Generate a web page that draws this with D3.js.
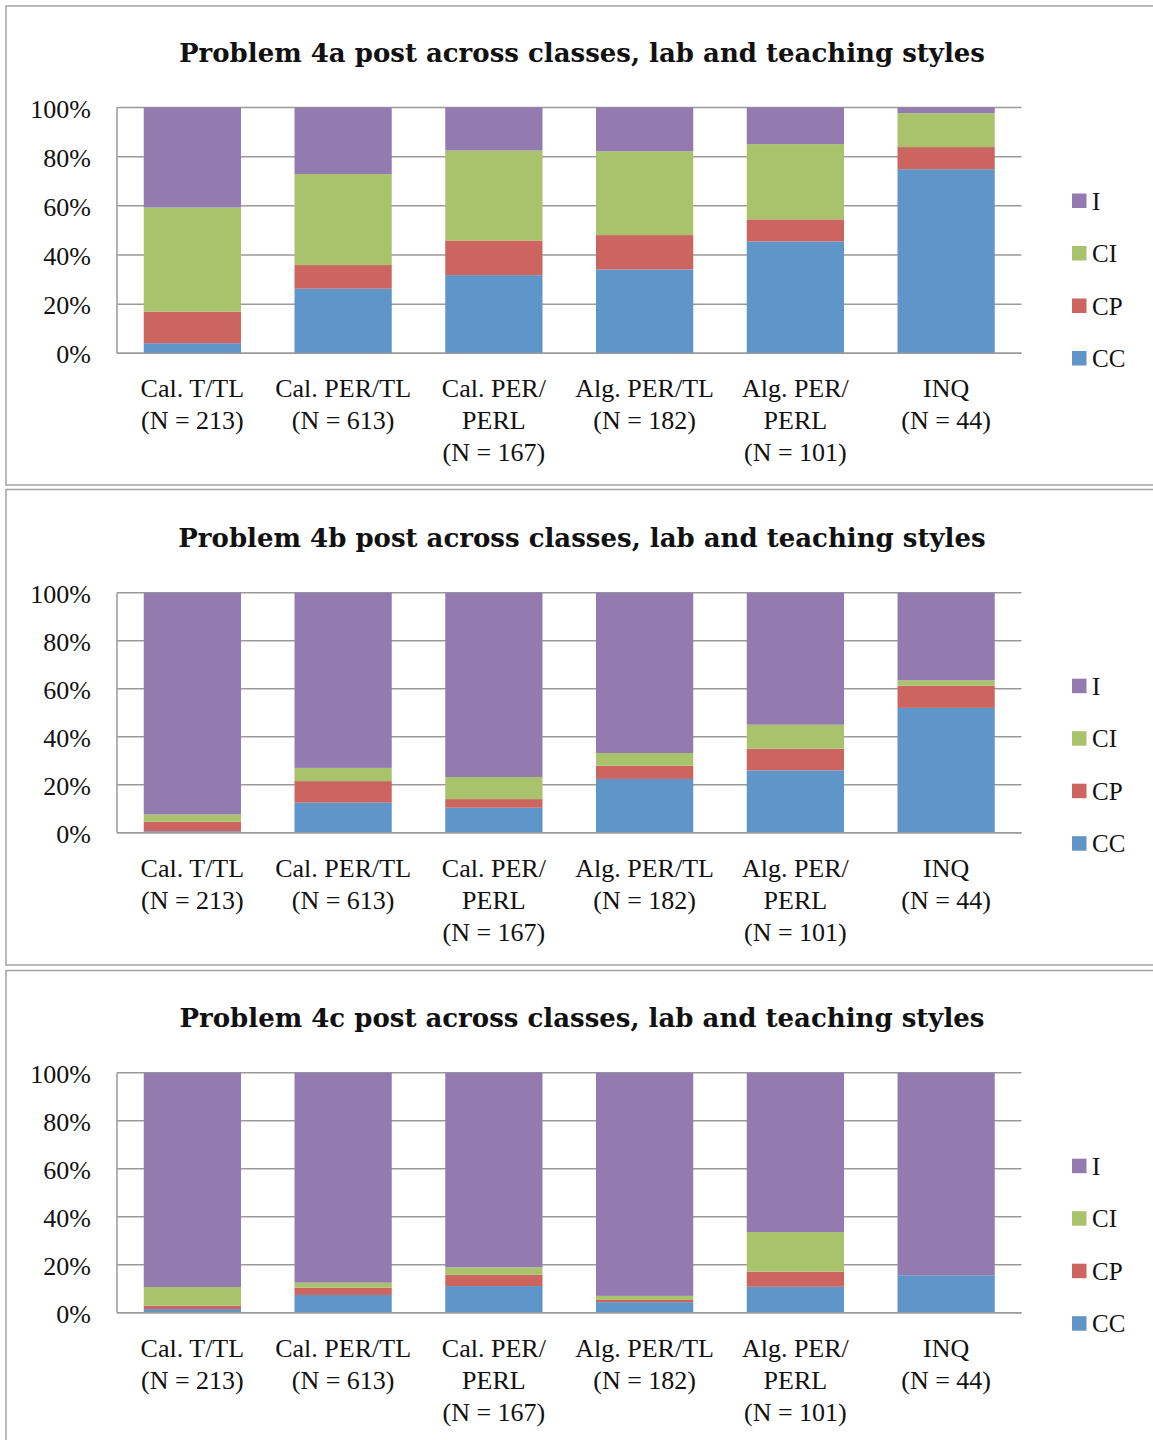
<!DOCTYPE html>
<html>
<head>
<meta charset="utf-8">
<script src="https://cdn.jsdelivr.net/npm/d3@7"></script>
<style>
  body { margin: 0; background: #fff; }
  svg text { font-family: "Liberation Serif", "DejaVu Serif", serif; fill: #111; }
  svg text.title { font-family: "DejaVu Serif", serif; font-weight: bold; }
</style>
</head>
<body>
<svg id="chart"></svg>
<script>
// categories (multi-line x labels)
var categories = ["Cal. T/TL", "Cal. PER/TL", "Cal. PER/PERL", "Alg. PER/TL", "Alg. PER/PERL", "INQ"];
var categoryLines = [
  ["Cal. T/TL", "(N = 213)"],
  ["Cal. PER/TL", "(N = 613)"],
  ["Cal. PER/", "PERL", "(N = 167)"],
  ["Alg. PER/TL", "(N = 182)"],
  ["Alg. PER/", "PERL", "(N = 101)"],
  ["INQ", "(N = 44)"]
];
var seriesKeys = ["CC", "CP", "CI", "I"];
var legendOrder = ["I", "CI", "CP", "CC"];
var yTicks = [0, 20, 40, 60, 80, 100];
var titles = [
  "Problem 4a post across classes, lab and teaching styles",
  "Problem 4b post across classes, lab and teaching styles",
  "Problem 4c post across classes, lab and teaching styles"
];

// percentages
var cc4a = [4.1, 26.3, 31.8, 34.1, 45.5, 74.9];
var cp4a = [12.8, 9.6, 14.1, 14.0, 9.0, 9.0];
var ci4a = [42.4, 37.0, 36.6, 34.1, 30.6, 13.8];
var i4a  = [40.7, 27.1, 17.5, 17.8, 14.9, 2.3];

var cc4b = [0.6, 12.5, 10.4, 22.4, 26.0, 52.0];
var cp4b = [4.0, 9.0, 3.6, 5.5, 9.0, 9.3];
var ci4b = [3.0, 5.5, 9.2, 5.3, 10.0, 2.2];
var i4b  = [92.4, 73.0, 76.8, 66.8, 55.0, 36.5];

var cc4c = [1.5, 7.4, 11.1, 4.4, 10.8, 15.6];
var cp4c = [1.4, 3.0, 4.7, 0.9, 6.3, 0];
var ci4c = [7.8, 2.1, 3.1, 1.7, 16.5, 0];
var i4c  = [89.3, 87.5, 81.1, 93.0, 66.4, 84.4];

var colors = { CC: "#5f95c8", CP: "#cc6560", CI: "#a9c36c", I: "#937bb0" };

var W = 1153, H = 1440;
var svg = d3.select("#chart").attr("width", W).attr("height", H);

// layout of the three panels
var panels = [
  { top: 6, bottom: 485, plotTop: 107.5, plotBottom: 353.3, titleY: 62 },
  { top: 489.5, bottom: 965, plotTop: 592.7, plotBottom: 832.7, titleY: 547 },
  { top: 970.5, bottom: 1460, plotTop: 1072.7, plotBottom: 1312.7, titleY: 1027 }
];
var plotLeft = 117, plotRight = 1021.5;

var allData = [
  [cc4a, cp4a, ci4a, i4a],
  [cc4b, cp4b, ci4b, i4b],
  [cc4c, cp4c, ci4c, i4c]
];

function buildRows(arrs) {
  return categories.map(function (c, i) {
    var row = { cat: c };
    seriesKeys.forEach(function (k, j) { row[k] = arrs[j][i]; });
    return row;
  });
}

var x = d3.scaleBand()
  .domain(categories)
  .range([plotLeft, plotRight])
  .paddingInner(0.355)
  .paddingOuter(0.1775);

panels.forEach(function (p, pi) {
  var g = svg.append("g");

  // panel frame
  g.append("rect")
    .attr("x", 6).attr("y", p.top)
    .attr("width", W + 20).attr("height", p.bottom - p.top)
    .attr("fill", "none")
    .attr("stroke", "#a3a3a3")
    .attr("stroke-width", 1.5);

  var y = d3.scaleLinear().domain([0, 100]).range([p.plotBottom, p.plotTop]);

  // title
  g.append("text")
    .attr("class", "title")
    .attr("x", 582).attr("y", p.titleY)
    .attr("text-anchor", "middle")
    .style("font-size", "26px")
    .text(titles[pi]);

  // gridlines
  g.append("g")
    .selectAll("line")
    .data(yTicks)
    .enter()
    .append("line")
    .attr("x1", plotLeft).attr("x2", plotRight)
    .attr("y1", function (d) { return y(d); })
    .attr("y2", function (d) { return y(d); })
    .attr("stroke", "#9a9a9a")
    .attr("stroke-width", 1.5);

  // left axis line
  g.append("line")
    .attr("x1", plotLeft).attr("x2", plotLeft)
    .attr("y1", p.plotTop).attr("y2", p.plotBottom)
    .attr("stroke", "#9a9a9a")
    .attr("stroke-width", 1.5);

  // y tick labels
  g.append("g")
    .selectAll("text")
    .data(yTicks)
    .enter()
    .append("text")
    .attr("x", 91)
    .attr("y", function (d) { return y(d) + 10; })
    .attr("text-anchor", "end")
    .style("font-size", "26px")
    .text(function (d) { return d + "%"; });

  // stacked bars
  var stacked = d3.stack().keys(seriesKeys)(buildRows(allData[pi]));
  g.append("g")
    .selectAll("g")
    .data(stacked)
    .enter()
    .append("g")
    .attr("fill", function (d) { return colors[d.key]; })
    .selectAll("rect")
    .data(function (d) { return d; })
    .enter()
    .append("rect")
    .attr("x", function (d) { return x(d.data.cat); })
    .attr("width", x.bandwidth())
    .attr("y", function (d) { return y(d[1]); })
    .attr("height", function (d) { return y(d[0]) - y(d[1]); });

  // bottom axis line drawn on top
  g.append("line")
    .attr("x1", plotLeft).attr("x2", plotRight)
    .attr("y1", p.plotBottom).attr("y2", p.plotBottom)
    .attr("stroke", "#9a9a9a")
    .attr("stroke-width", 1.5);

  // x labels
  var xl = g.append("g")
    .selectAll("text")
    .data(categories)
    .enter()
    .append("text")
    .attr("x", function (d) { return x(d) + x.bandwidth() / 2; })
    .attr("y", p.plotBottom + 44)
    .attr("text-anchor", "middle")
    .style("font-size", "26px");
  xl.selectAll("tspan")
    .data(function (d, i) { return categoryLines[i]; })
    .enter()
    .append("tspan")
    .attr("x", function () { return d3.select(this.parentNode).attr("x"); })
    .attr("dy", function (d, i) { return i === 0 ? 0 : 32; })
    .text(function (d) { return d; });

  // legend
  var lg = g.append("g")
    .selectAll("g")
    .data(legendOrder)
    .enter()
    .append("g")
    .attr("transform", function (d, i) {
      return "translate(1072," + (p.plotTop + 86 + i * 52.5) + ")";
    });
  lg.append("rect")
    .attr("width", 14.5).attr("height", 14.5)
    .attr("fill", function (d) { return colors[d]; });
  lg.append("text")
    .attr("x", 20).attr("y", 16)
    .style("font-size", "25px")
    .text(function (d) { return d; });
});
</script>
</body>
</html>
